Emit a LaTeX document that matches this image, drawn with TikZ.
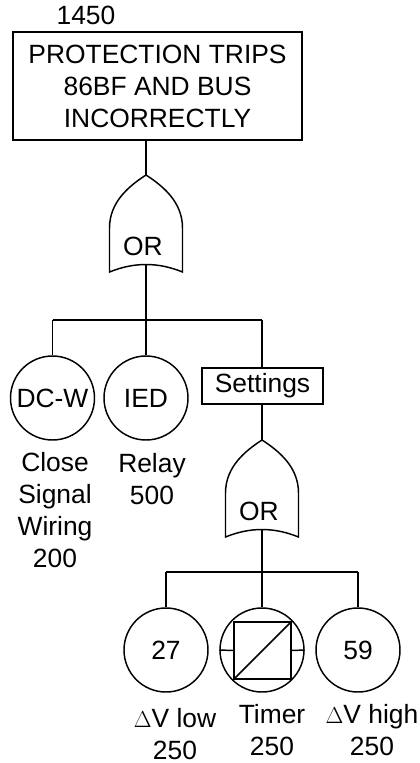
\documentclass[tikz,border=0pt]{standalone}
\usepackage{fontspec}
\setmainfont{Liberation Sans}
\usetikzlibrary{arrows,positioning}
\newcommand{\dV}{{\fontsize{17}{24}\selectfont$\Delta$}V}
\begin{document}
\begin{tikzpicture}[x=0.75pt,y=-0.75pt,line width=1.1pt,font=\fontsize{19.8}{24}\selectfont]
	\tikzset{EventStyle/.style = {draw=black,shape=rectangle,inner sep=0pt,align=center}}
	\tikzset{BasicStyle/.style = {draw=black,shape=circle,minimum size=63pt,inner sep=0pt}}
	\tikzset{LabelStyle/.style = {align=center,inner sep=0pt}}
	\tikzset{orgate/.pic = {
		\draw (-36.5,53) .. controls (-36.5,27) and (-17,11) .. (0,0)
			.. controls (17,11) and (36.5,27) .. (36.5,53)
			-- (36.5,97) .. controls (12,87) and (-12,87) .. (-36.5,97) -- cycle;
		\coordinate (-in) at (0,0);
		\coordinate (-out) at (0,89);
		\node[LabelStyle] (-text) at (-3,71) {OR};
	}}
	\useasboundingbox (0,0) rectangle (419,763);
	\node[LabelStyle] (Num) at (86,15) {1450};
	\node[EventStyle,minimum width=216.75pt,minimum height=81pt] (Top) at (157.5,86) {PROTECTION TRIPS\\86BF AND BUS\\INCORRECTLY};
	\pic (G1) at (146,175) {orgate};
	\coordinate (B1) at (146,320);
	\coordinate (B1L) at (52.5,320);
	\coordinate (B1R) at (262,320);
	\node[BasicStyle] (DCW) at (52.5,398) {DC-W};
	\node[BasicStyle] (IED) at (146,398) {IED};
	\node[EventStyle,minimum width=90.75pt,minimum height=27pt] (Settings) at (262.5,386) {Settings};
	\node[LabelStyle] (DCWtxt) at (55,510.5) {Close\\Signal\\Wiring\\200};
	\node[LabelStyle] (IEDtxt) at (152,479) {Relay\\500};
	\pic (G2) at (262,440) {orgate};
	\coordinate (B2) at (262,572);
	\coordinate (B2L) at (166,572);
	\coordinate (B2R) at (358,572);
	\node[BasicStyle] (Low) at (166,650) {27};
	\node[BasicStyle] (Tim) at (262,650) {};
	\node[BasicStyle] (High) at (358,650) {59};
	\node[draw=black,minimum size=42.5pt,inner sep=0pt] (TimBox) at (262.5,650.5) {};
	\node[LabelStyle] (Lowtxt) at (175,734) {\dV{} low\\250};
	\node[LabelStyle] (Timtxt) at (272,730.5) {Timer\\250};
	\node[LabelStyle] (Hightxt) at (372,730) {\dV{} high\\250};
	\draw (Top.south -| G1-in) -- (G1-in);
	\draw (G1-out) -- (B1);
	\draw (B1L) -- (B1R);
	\draw (B1L) -- (DCW);
	\draw (B1) -- (IED);
	\draw (B1R) -- (B1R |- Settings.north);
	\draw (Settings.south -| G2-in) -- (G2-in);
	\draw (G2-out) -- (B2);
	\draw (B2L) -- (B2R);
	\draw (B2L) -- (Low);
	\draw (B2) -- (Tim);
	\draw (B2R) -- (High);
	\draw (TimBox.south west) -- (TimBox.north east);
	\draw (Tim.west) -- (TimBox.west);
	\draw (TimBox.east) -- (Tim.east);
\end{tikzpicture}
\end{document}
